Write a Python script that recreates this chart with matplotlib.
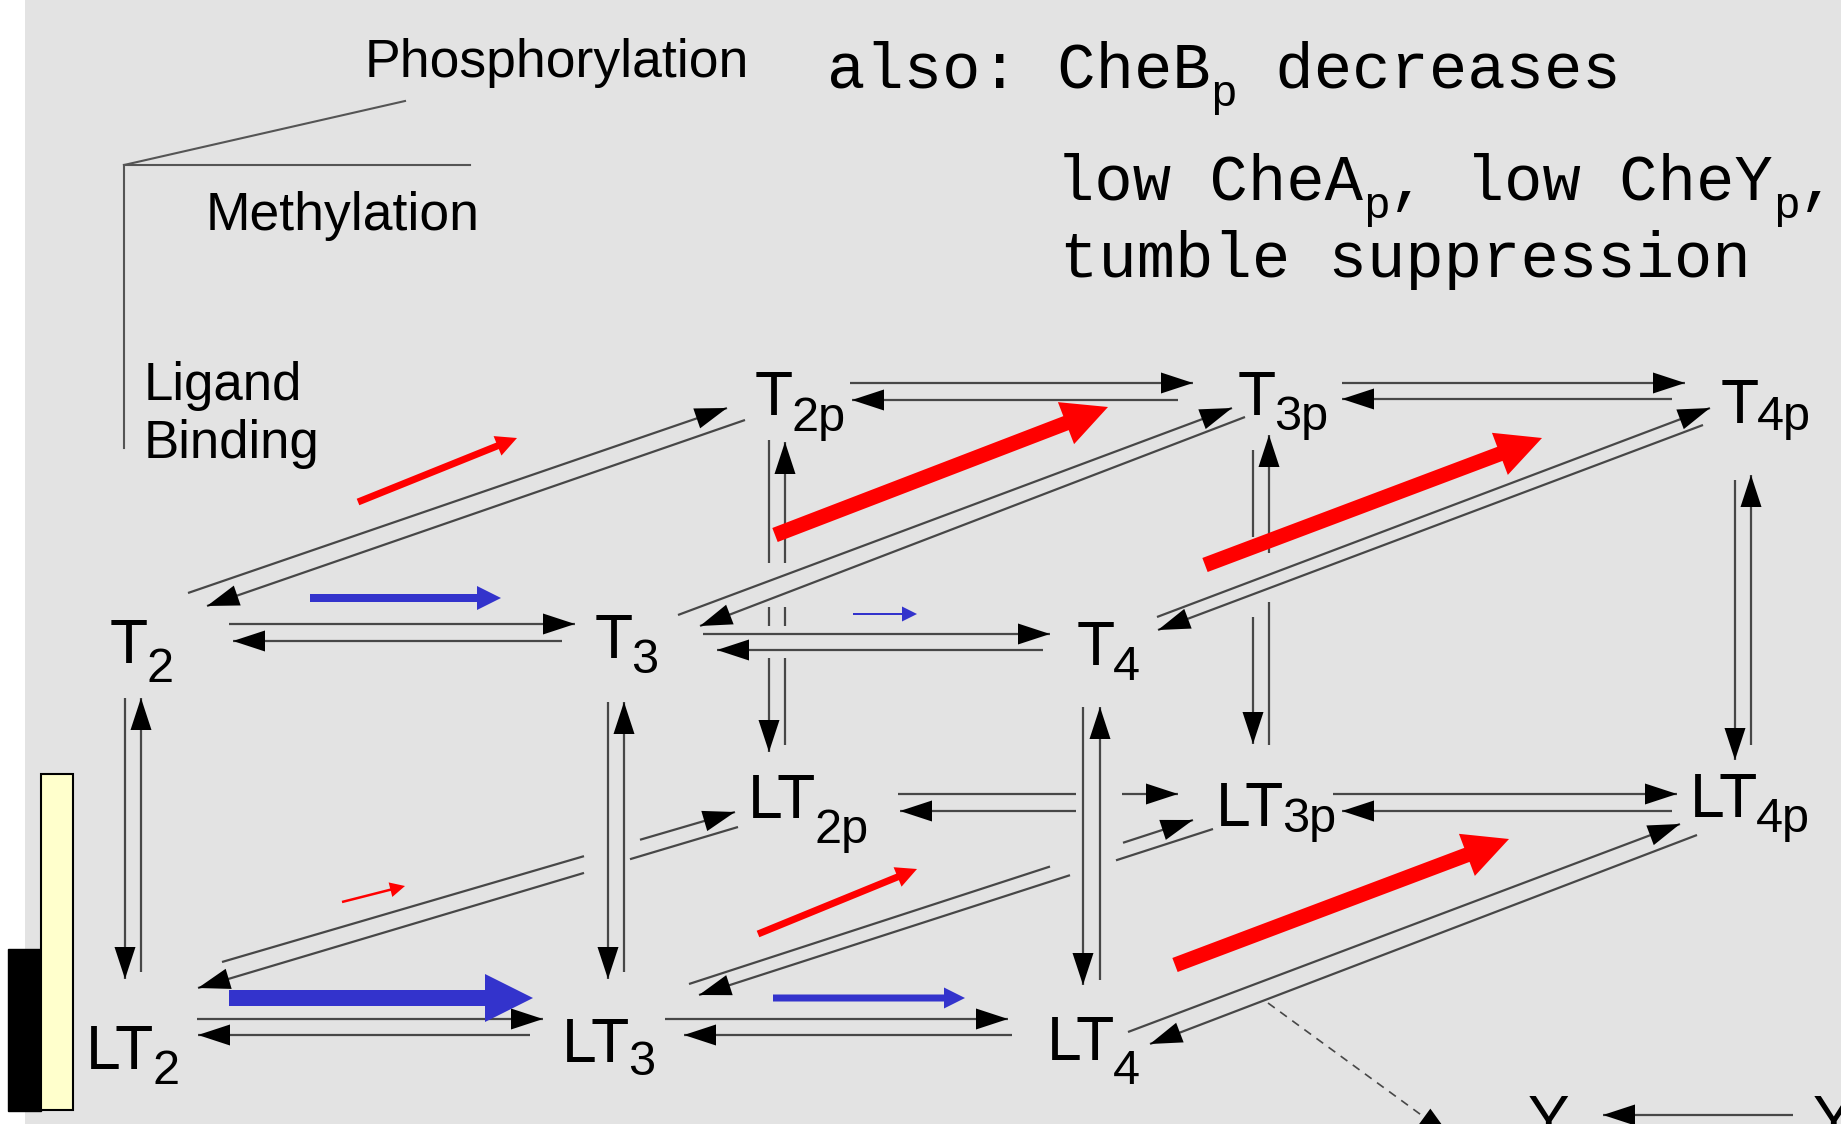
import numpy as np
import matplotlib
matplotlib.use("Agg")
import matplotlib.pyplot as plt
from matplotlib.patches import Polygon, Rectangle

W, H = 1841, 1124

# receptor states: base name + subscript (methylation level, p = phosphorylated)
species = ["T2", "T3", "T4", "T2p", "T3p", "T4p",
           "LT2", "LT3", "LT4", "LT2p", "LT3p", "LT4p"]
base_name = ["T", "T", "T", "T", "T", "T", "LT", "LT", "LT", "LT", "LT", "LT"]
subscript = ["2", "3", "4", "2p", "3p", "4p", "2", "3", "4", "2p", "3p", "4p"]

# reversible reactions, each drawn as two opposite arrows
reactions = [("T2", "T3"), ("T3", "T4"), ("T2p", "T3p"), ("T3p", "T4p"),
             ("LT2", "LT3"), ("LT3", "LT4"), ("LT2p", "LT3p"), ("LT3p", "LT4p"),
             ("T2", "LT2"), ("T3", "LT3"), ("T4", "LT4"),
             ("T2p", "LT2p"), ("T3p", "LT3p"), ("T4p", "LT4p"),
             ("T2", "T2p"), ("T3", "T3p"), ("T4", "T4p"),
             ("LT2", "LT2p"), ("LT3", "LT3p"), ("LT4", "LT4p")]

# net phosphorylation fluxes (red) and methylation fluxes (blue), arrow thickness
phospho_from = ["T2", "T3", "T4", "LT2", "LT3", "LT4"]
phospho_width = [7, 15, 15, 2.5, 7, 15]
methyl_from = ["T2", "T3", "LT2", "LT3"]
methyl_width = [8, 2, 16, 7]

# ---------------- layout (pixel positions of the drawing) ----------------
# main label left / baseline, subscript baseline
label_pos = {
    "T2": (110, 663, 682), "T3": (595, 658, 673), "T4": (1077, 665, 680),
    "T2p": (755, 415, 431), "T3p": (1238, 415, 430), "T4p": (1721, 423, 430),
    "LT2": (86, 1069, 1084), "LT3": (562, 1062, 1075), "LT4": (1047, 1060, 1084),
    "LT2p": (748, 818, 843), "LT3p": (1216, 826, 832), "LT4p": (1690, 817, 832),
}

# forward line, backward line: (start, end-with-head, gaps)
pair_lines = {
    ("T2", "T3"): [((229, 624), (575, 624), ()), ((562, 641), (233, 641), ())],
    ("T3", "T4"): [((703, 634), (1050, 634), ()), ((1043, 650), (717, 650), ())],
    ("T2p", "T3p"): [((850, 383), (1193, 383), ()), ((1178, 400), (852, 400), ())],
    ("T3p", "T4p"): [((1342, 383), (1685, 383), ()), ((1672, 399), (1342, 399), ())],
    ("LT2", "LT3"): [((197, 1019), (543, 1019), ()), ((530, 1035), (198, 1035), ())],
    ("LT3", "LT4"): [((665, 1019), (1008, 1019), ()), ((1012, 1035), (684, 1035), ())],
    ("LT2p", "LT3p"): [((898, 794), (1178, 794), ((1076, 1122),)), ((1076, 811), (900, 811), ())],
    ("LT3p", "LT4p"): [((1333, 794), (1677, 794), ()), ((1672, 811), (1342, 811), ())],
    ("T2", "LT2"): [((125, 698), (125, 979), ()), ((141, 972), (141, 698), ())],
    ("T3", "LT3"): [((608, 702), (608, 979), ()), ((624, 972), (624, 702), ())],
    ("T4", "LT4"): [((1083, 707), (1083, 985), ()), ((1100, 980), (1100, 707), ())],
    ("T2p", "LT2p"): [((769, 440), (769, 752), ((563, 607), (626, 658))),
                      ((785, 745), (785, 442), ((563, 607), (626, 658)))],
    ("T3p", "LT3p"): [((1253, 450), (1253, 744), ((537, 617),)),
                      ((1269, 745), (1269, 435), ((553, 602),))],
    ("T4p", "LT4p"): [((1735, 480), (1735, 760), ()), ((1751, 745), (1751, 475), ())],
    ("T2", "T2p"): [((188, 593), (727, 408), ()), ((745, 420), (207, 606), ())],
    ("T3", "T3p"): [((678, 615), (1232, 408), ()), ((1245, 417), (700, 626), ())],
    ("T4", "T4p"): [((1157, 617), (1710, 408), ()), ((1703, 425), (1158, 630), ())],
    ("LT2", "LT2p"): [((222, 962), (735, 812), ((584, 640),)),
                      ((738, 827), (198, 988), ((584, 630),))],
    ("LT3", "LT3p"): [((689, 984), (1193, 820), ((1050, 1123),)),
                      ((1213, 829), (699, 995), ((1070, 1116),))],
    ("LT4", "LT4p"): [((1128, 1032), (1680, 824), ()), ((1697, 835), (1150, 1044), ())],
}

phospho_pos = {"T2": ((358, 502), (517, 438)), "T3": ((775, 535), (1108, 407)),
               "T4": ((1205, 565), (1542, 438)), "LT2": ((342, 902), (405, 886)),
               "LT3": ((758, 934), (917, 869)), "LT4": ((1175, 965), (1509, 839))}
methyl_pos = {"T2": ((310, 598), (501, 598)), "T3": ((853, 614), (917, 614)),
              "LT2": ((229, 998), (533, 998)), "LT3": ((773, 998), (965, 998))}

LINE = "#474747"
BG = "#e3e3e3"
RED = "#ff0000"
BLUE = "#3333cc"
SANS = "Liberation Sans"
MONO = "Liberation Mono"

fig = plt.figure(figsize=(W / 100, H / 100), dpi=100)
fig.patch.set_facecolor("white")
ax = fig.add_axes([0, 0, 1, 1])
ax.set_xlim(0, W)
ax.set_ylim(H, 0)
ax.axis("off")

ax.add_patch(Rectangle((25, 0), W - 25, H, fc=BG, ec="none", zorder=0))


def draw_head(tip, frm, length=32, width=21, color="black"):
    tip = np.asarray(tip, float)
    d = tip - np.asarray(frm, float)
    d /= np.hypot(*d)
    n = np.array([-d[1], d[0]])
    base = tip - d * length
    ax.add_patch(Polygon([tip, base + n * width / 2, base - n * width / 2],
                         closed=True, fc=color, ec="none", zorder=3))


def draw_line(p0, p1, gaps=(), **kw):
    p0 = np.asarray(p0, float)
    p1 = np.asarray(p1, float)
    k = 0 if abs(p1[0] - p0[0]) >= abs(p1[1] - p0[1]) else 1
    cuts = sorted(sorted(((g0 - p0[k]) / (p1[k] - p0[k]), (g1 - p0[k]) / (p1[k] - p0[k])))
                  for g0, g1 in gaps)
    t = 0.0
    pieces = []
    for c0, c1 in cuts:
        pieces.append((t, c0))
        t = c1
    pieces.append((t, 1.0))
    for a, b in pieces:
        q0 = p0 + (p1 - p0) * a
        q1 = p0 + (p1 - p0) * b
        ax.plot([q0[0], q1[0]], [q0[1], q1[1]], solid_capstyle="butt", zorder=2, **kw)


# reaction arrows
for r in reactions:
    for start, end, gaps in pair_lines[r]:
        draw_line(start, end, gaps, color=LINE, lw=1.6)
        draw_head(end, start)

# flux arrows
for name, w in zip(phospho_from, phospho_width):
    (x0, y0), (x1, y1) = phospho_pos[name]
    ax.arrow(x0, y0, x1 - x0, y1 - y0, width=w, head_width=max(3 * w, 15),
             head_length=max(3 * w, 15), length_includes_head=True,
             fc=RED, ec="none", zorder=4)
for name, w in zip(methyl_from, methyl_width):
    (x0, y0), (x1, y1) = methyl_pos[name]
    ax.arrow(x0, y0, x1 - x0, y1 - y0, width=w, head_width=max(3 * w, 15),
             head_length=max(3 * w, 15), length_includes_head=True,
             fc=BLUE, ec="none", zorder=4)

# state labels
for name, base, sub in zip(species, base_name, subscript):
    x, yb, ys = label_pos[name]
    t = ax.text(x, yb, base, fontsize=45, family=SANS, ha="left", va="baseline", zorder=5)
    ax.annotate(sub, xy=(1.0, ys), xycoords=(t, "data"), xytext=(-1.5, 0),
                textcoords="offset points", fontsize=35, family=SANS,
                ha="left", va="baseline", zorder=5)

# axis legend (top left)
ax.plot([124, 470], [165, 165], color="#555555", lw=1.5)
ax.plot([124, 405], [165, 101], color="#555555", lw=1.5)
ax.plot([124, 124], [165, 448], color="#555555", lw=1.5)
ax.text(365, 77, "Phosphorylation", fontsize=38.5, family=SANS, ha="left", va="baseline")
ax.text(206, 230, "Methylation", fontsize=38.5, family=SANS, ha="left", va="baseline")
ax.text(144, 400, "Ligand", fontsize=38, family=SANS, ha="left", va="baseline")
ax.text(144, 458, "Binding", fontsize=38, family=SANS, ha="left", va="baseline")

# monospace notes with subscripts
MAIN_PT, SUB_PT = 46, 32


def mono_line(x, y, parts):
    for s, is_sub in parts:
        size = SUB_PT if is_sub else MAIN_PT
        ax.text(x, y + (18 if is_sub else 0), s, fontsize=size, family=MONO,
                ha="left", va="baseline")
        x += len(s) * 0.6 * size * 100 / 72


mono_line(827, 88, [("also: CheB", False), ("p", True), (" decreases", False)])
mono_line(1056, 200, [("low CheA", False), ("p", True), (", low CheY", False),
                      ("p", True), (",", False)])
mono_line(1060, 277, [("tumble suppression", False)])

# output branch at the bottom right
draw_line((1268, 1003), (1450, 1136), color=LINE, lw=1.2, linestyle=(0, (5, 4)))
draw_head((1450, 1136), (1268, 1003))
draw_line((1793, 1115), (1603, 1115), color=LINE, lw=1.6)
draw_head((1603, 1115), (1793, 1115))
ax.text(1528, 1139, "Y", fontsize=45, family=SANS, ha="left", va="baseline")
ax.text(1813, 1139, "Y", fontsize=45, family=SANS, ha="left", va="baseline")

# bars on the left edge
ax.add_patch(Rectangle((8, 949), 33, 162, fc="black", ec="black", lw=1, zorder=3))
ax.add_patch(Rectangle((41, 774), 32, 336, fc="#ffffcc", ec="black", lw=1.5, zorder=3))

fig.savefig("out.png", dpi=100, facecolor=fig.get_facecolor())
